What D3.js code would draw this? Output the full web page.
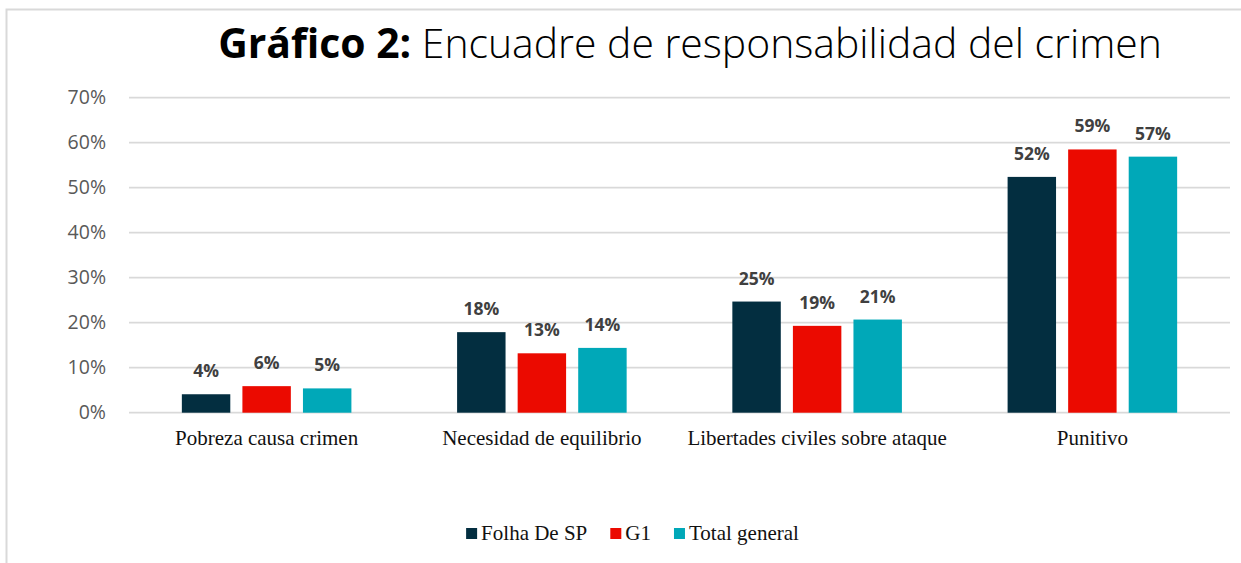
<!DOCTYPE html>
<html>
<head>
<meta charset="utf-8">
<script src="https://cdn.jsdelivr.net/npm/d3@7"></script>
<style>
  body { margin: 0; background: #fff; }
  svg { display: block; }
</style>
</head>
<body>
<div id="chart"></div>
<script>
const categories = ['Pobreza causa crimen', 'Necesidad de equilibrio', 'Libertades civiles sobre ataque', 'Punitivo']
const seriesNames = ['Folha De SP', 'G1', 'Total general']
const folha = [0.041, 0.179, 0.247, 0.524]
const g1 = [0.059, 0.132, 0.193, 0.585]
const total = [0.054, 0.144, 0.207, 0.569]
const labels = [
  ['4%', '18%', '25%', '52%'],
  ['6%', '13%', '19%', '59%'],
  ['5%', '14%', '21%', '57%']
]
const yTicks = [0, 0.1, 0.2, 0.3, 0.4, 0.5, 0.6, 0.7]
const colors = ['#032e40', '#eb0a00', '#00a8b8']

const W = 1241
const H = 563

const svg = d3.select('#chart')
  .append('svg')
  .attr('width', W)
  .attr('height', H)

// outer frame
svg.append('rect')
  .attr('x', 6.5)
  .attr('y', 9.5)
  .attr('width', 1400)
  .attr('height', 700)
  .attr('fill', '#fff')
  .attr('stroke', '#d9d9d9')
  .attr('stroke-width', 2)

// title
const title = svg.append('text')
  .attr('x', 690)
  .attr('y', 58)
  .attr('text-anchor', 'middle')
  .style('font-family', "'Open Sans', sans-serif")
  .style('font-size', '35px')
  .attr('fill', '#000')
title.append('tspan').attr('font-weight', 700).text('Gráfico 2:')
title.append('tspan').attr('font-weight', 300).text(' Encuadre de responsabilidad del crimen')
const tw = title.node().getComputedTextLength()
title.style('font-size', (35 * 944 / tw) + 'px')

const x0 = d3.scaleBand()
  .domain(categories)
  .range([129, 1230])

const bw = x0.bandwidth()
const x1 = d3.scaleBand()
  .domain(seriesNames)
  .range([bw * 0.192, bw * 0.808])
  .paddingInner(0.2)

const y = d3.scaleLinear()
  .domain([0, 0.7])
  .range([412.7, 97.7])

// gridlines
svg.append('g')
  .selectAll('line')
  .data(yTicks)
  .join('line')
  .attr('x1', 129)
  .attr('x2', 1230)
  .attr('y1', d => y(d))
  .attr('y2', d => y(d))
  .attr('stroke', '#d9d9d9')
  .attr('stroke-width', 1.75)

// y axis labels
const yAxis = svg.append('g')
  .attr('transform', 'translate(106,0)')
  .call(d3.axisLeft(y).tickValues(yTicks).tickFormat(d3.format('.0%')).tickSize(0).tickPadding(0))
yAxis.select('.domain').remove()
yAxis.selectAll('text')
  .style('font-family', "'Open Sans', sans-serif")
  .style('font-size', '19.5px')
  .attr('fill', '#595959')

const series = [folha, g1, total]

const groups = svg.append('g')
  .selectAll('g')
  .data(series)
  .join('g')
  .attr('fill', (d, i) => colors[i])

groups.each(function (vals, si) {
  const g = d3.select(this)
  g.selectAll('rect')
    .data(vals)
    .join('rect')
    .attr('x', (d, i) => x0(categories[i]) + x1(seriesNames[si]))
    .attr('y', d => y(d))
    .attr('width', x1.bandwidth())
    .attr('height', d => y(0) - y(d))

  g.selectAll('text')
    .data(vals)
    .join('text')
    .attr('x', (d, i) => x0(categories[i]) + x1(seriesNames[si]) + x1.bandwidth() / 2)
    .attr('y', d => y(d) - 17)
    .attr('text-anchor', 'middle')
    .style('font-family', "'Open Sans', sans-serif")
    .style('font-size', '17.5px')
    .style('font-weight', 700)
    .attr('fill', '#404040')
    .text((d, i) => labels[si][i])
})

// category labels
const xAxis = svg.append('g')
  .attr('transform', 'translate(0,412.7)')
  .call(d3.axisBottom(x0).tickSize(0).tickPadding(0))
xAxis.select('.domain').remove()
xAxis.selectAll('text')
  .attr('dy', null)
  .attr('y', 32)
  .style('font-family', "'Liberation Serif', 'Times New Roman', serif")
  .style('font-size', '21px')
  .attr('fill', '#111')

// legend
const legend = svg.append('g')
let lx = 0
seriesNames.forEach((name, i) => {
  const it = legend.append('g').attr('transform', `translate(${lx},0)`)
  it.append('rect')
    .attr('x', 0)
    .attr('y', 528)
    .attr('width', 11)
    .attr('height', 11)
    .attr('fill', colors[i])
  const t = it.append('text')
    .attr('x', 15)
    .attr('y', 539.5)
    .style('font-family', "'Liberation Serif', 'Times New Roman', serif")
    .style('font-size', '21px')
    .attr('fill', '#111')
    .text(name)
  lx += 15 + t.node().getComputedTextLength() + 23
})
const legendW = lx - 23
legend.attr('transform', `translate(${632.5 - legendW / 2},0)`)
</script>
</body>
</html>
